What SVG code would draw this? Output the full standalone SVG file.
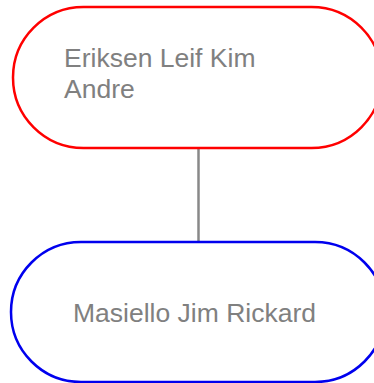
<svg xmlns="http://www.w3.org/2000/svg" width="374" height="383" viewBox="0 0 374 383">
<style>
.node{fill:#fff;stroke-width:2.5}
.lbl{font-family:"Liberation Sans",Arial,sans-serif;font-size:26.5px;fill:#808080}
.edge{stroke:#888;stroke-width:2.5;fill:none}
</style>
<rect width="374" height="383" fill="#fff"/>
<g id="connectors">
<line class="edge" x1="198.5" y1="148" x2="198.5" y2="242"/>
</g>
<g id="node-eriksen">
<rect class="node" stroke="#ff0000" x="13" y="7" width="369" height="141" rx="70.5" ry="70.5"/>
<text class="lbl" x="64" y="67">Eriksen Leif Kim</text>
<text class="lbl" x="64" y="98">Andre</text>
</g>
<g id="node-masiello">
<rect class="node" stroke="#0000ee" x="11" y="242" width="374" height="140" rx="70" ry="70"/>
<text class="lbl" x="73" y="322">Masiello Jim Rickard</text>
</g>
</svg>
